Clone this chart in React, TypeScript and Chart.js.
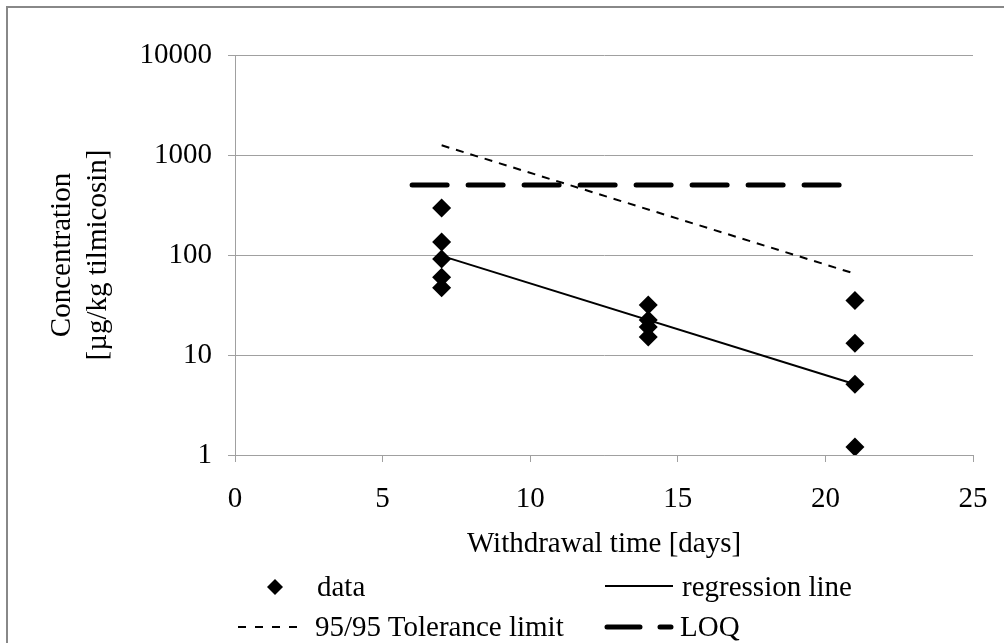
import React, { useEffect, useRef } from 'react';
import { Chart, registerables } from 'chart.js';

Chart.register(...registerables);

// ---- data ----
const dataDays = [7, 7, 7, 7, 7, 14, 14, 14, 14, 21, 21, 21, 21];
const dataConc = [295, 135, 91, 60, 47, 31.6, 22.4, 19, 15.1, 35, 13.1, 5.1, 1.2];
const regressionDays = [7, 21];
const regressionConc = [98, 5.1];
const toleranceDays = [7, 21];
const toleranceConc = [1250, 65];
const loqDays = [6, 21];
const loqConc = [500, 500];
const xTickValues = [0, 5, 10, 15, 20, 25];
const yTickValues = [1, 10, 100, 1000, 10000];
const xTitle = 'Withdrawal time [days]';
const yTitle = ['Concentration', '[µg/kg tilmicosin]'];
const legendLabels = ['data', 'regression line', '95/95 Tolerance limit', 'LOQ'];

const FONT = 'Liberation Serif, Times New Roman, serif';
const GRID = '#a0a0a0';
const FS = 29;

const pts = (xs: number[], ys: number[]) => xs.map((x, i) => ({ x, y: ys[i] }));

export default function App() {
  const ref = useRef<HTMLCanvasElement | null>(null);

  useEffect(() => {
    if (!ref.current) return;
    const font = { family: FONT, size: FS };
    const chart = new Chart(ref.current, {
      type: 'scatter',
      data: {
        datasets: [
          {
            label: legendLabels[0],
            data: pts(dataDays, dataConc),
            pointStyle: 'rectRot',
            pointRadius: 9.5,
            backgroundColor: '#000',
            borderColor: '#000',
            borderWidth: 0,
            showLine: false,
          },
          {
            label: legendLabels[1],
            data: pts(regressionDays, regressionConc),
            showLine: true,
            borderColor: '#000',
            borderWidth: 2,
            pointRadius: 0,
          },
          {
            label: legendLabels[2],
            data: pts(toleranceDays, toleranceConc),
            showLine: true,
            borderColor: '#000',
            borderWidth: 2,
            borderDash: [8, 7],
            pointRadius: 0,
          },
          {
            label: legendLabels[3],
            data: pts(loqDays, loqConc),
            showLine: true,
            borderColor: '#000',
            borderWidth: 5,
            borderDash: [35, 21],
            borderCapStyle: 'round',
            pointRadius: 0,
          },
        ],
      } as any,
      options: {
        responsive: false,
        animation: false,
        layout: { padding: { left: 0, top: 55, right: 31, bottom: 78 } },
        plugins: { legend: { display: false }, tooltip: { enabled: false } },
        scales: {
          x: {
            type: 'linear',
            min: 0,
            max: 25,
            afterBuildTicks: (s: any) => {
              s.ticks = xTickValues.map((v) => ({ value: v }));
            },
            afterFit: (s: any) => {
              s.height = 110;
              s.paddingLeft = 0;
              s.paddingRight = 0;
            },
            grid: { drawOnChartArea: false, drawTicks: true, tickLength: 7, color: GRID },
            border: { color: GRID, width: 1 },
            ticks: { font, color: '#000', padding: 20, maxRotation: 0, callback: (v: any) => String(v) },
            title: { display: true, text: xTitle, font, color: '#000', padding: { top: 0, bottom: 3 } },
          },
          y: {
            type: 'logarithmic',
            min: 1,
            max: 10000,
            afterBuildTicks: (s: any) => {
              s.ticks = yTickValues.map((v) => ({ value: v }));
            },
            afterFit: (s: any) => {
              s.width = 235;
              s.paddingTop = 0;
              s.paddingBottom = 0;
            },
            grid: { color: GRID, tickLength: 7, drawTicks: true },
            border: { color: GRID, width: 1 },
            ticks: { font, color: '#000', padding: 16, callback: (v: any) => String(v) },
            title: {
              display: true,
              text: yTitle,
              font: { family: FONT, size: FS, lineHeight: '36px' },
              color: '#000',
              padding: { top: 44, bottom: 0 },
            },
          },
        },
      } as any,
    });
    return () => chart.destroy();
  }, []);

  const textStyle = (left: number, top: number): React.CSSProperties => ({
    position: 'absolute',
    left,
    top,
    fontFamily: FONT,
    fontSize: FS,
    lineHeight: '30px',
    whiteSpace: 'nowrap',
    color: '#000',
  });

  return (
    <div style={{ position: 'fixed', left: 0, top: 0, width: 1004, height: 643, background: '#fff', overflow: 'hidden' }}>
      <div
        style={{
          position: 'absolute',
          left: 6,
          top: 6,
          width: 1100,
          height: 800,
          borderTop: '2px solid #888',
          borderLeft: '2px solid #888',
        }}
      />
      <canvas ref={ref} width={1004} height={643} style={{ position: 'absolute', left: 0, top: 0 }} />
      <svg width={1004} height={643} style={{ position: 'absolute', left: 0, top: 0, pointerEvents: 'none' }}>
        <polygon points="275,579 283,587 275,595 267,587" fill="#000" />
        <line x1={605} y1={586} x2={673} y2={586} stroke="#000" strokeWidth={2} />
        <line x1={238} y1={627} x2={303} y2={627} stroke="#000" strokeWidth={2} strokeDasharray="8 9" />
        <line x1={607} y1={627} x2={671} y2={627} stroke="#000" strokeWidth={5} strokeLinecap="round" strokeDasharray="33 20" />
      </svg>
      <div style={textStyle(317, 571)}>{legendLabels[0]}</div>
      <div style={textStyle(682, 571)}>{legendLabels[1]}</div>
      <div style={textStyle(315, 611)}>{legendLabels[2]}</div>
      <div style={textStyle(680, 611)}>{legendLabels[3]}</div>
    </div>
  );
}
